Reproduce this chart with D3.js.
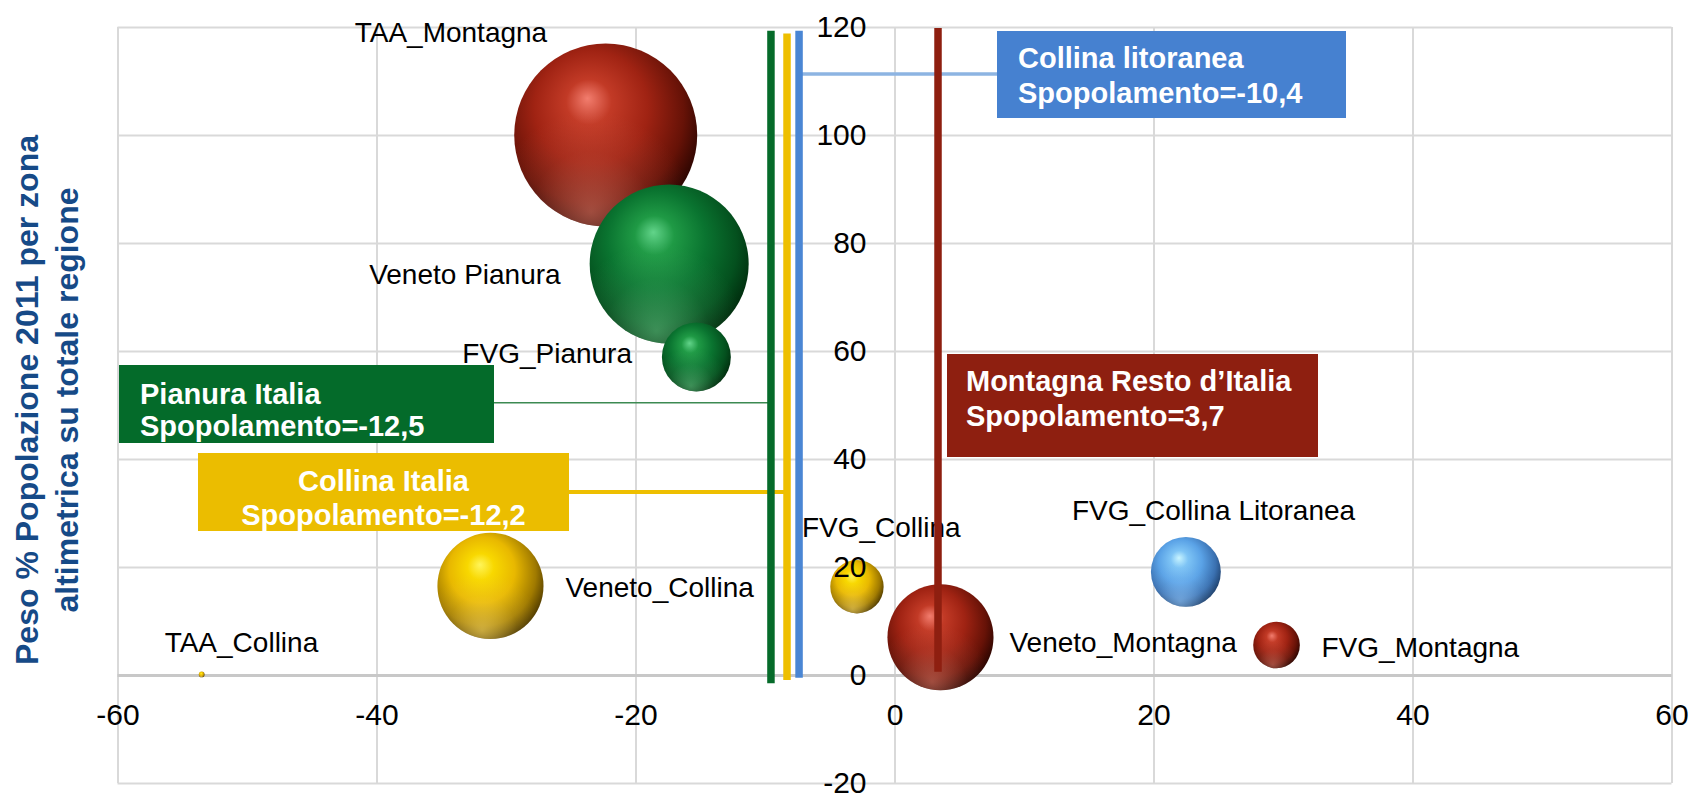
<!DOCTYPE html>
<html>
<head>
<meta charset="utf-8">
<script src="https://cdn.jsdelivr.net/npm/d3@7"></script>
<style>
  body { margin: 0; background: #fff; }
  text { font-family: "Liberation Sans", Arial, sans-serif; }
</style>
</head>
<body>
<script>
// bubbles: x = spopolamento, y = peso % popolazione, size = bubble value
const labels = ["TAA_Montagna", "Veneto Pianura", "FVG_Pianura", "Veneto_Collina", "TAA_Collina",
                "FVG_Collina", "FVG_Collina Litoranea", "Veneto_Montagna", "FVG_Montagna"];
const zones = ["Montagna", "Pianura", "Pianura", "Collina", "Collina",
               "Collina", "Litoranea", "Montagna", "Montagna"];
const spopolamento = [-22.3, -17.4, -15.3, -31.2, -53.5, -2.9, 22.5, 3.55, 29.5];
const peso = [100, 76.1, 58.9, 16.5, 0.1, 16.35, 19.1, 7.0, 5.55];
const dimensione = [100, 75.5, 14.2, 33.6, 0.1, 8.5, 14.6, 33.6, 6.5];

// reference lines for Italia
const italiaZones = ["Pianura", "Collina", "Litoranea", "Montagna"];
const italiaX = [-9.54, -8.30, -7.37, 3.36];
const italiaTop = [119.3, 118.8, 119.3, 119.8];
const italiaBottom = [-1.54, -0.93, -0.5, 0.6];
const italiaTitle = ["Pianura Italia", "Collina Italia", "Collina litoranea", "Montagna Resto d\u2019Italia"];
const italiaSpop = ["-12,5", "-12,2", "-10,4", "3,7"];
const connectorY = [50.4, 33.9, 111.3, null];

const xTicks = [-60, -40, -20, 0, 20, 40, 60];
const yTicks = [-20, 0, 20, 40, 60, 80, 100, 120];

const yTitle = ["Peso % Popolazione 2011 per zona", "altimetrica su totale regione"];

// styles / layout
const W = 1690, H = 794;
const palette = {
  Montagna:  {stops: ["#F27D6E", "#C23A26", "#A02313", "#661207", "#260400"], rim: "#E0806E", line: "#8E1F10", box: "#8E1F10"},
  Pianura:   {stops: ["#62D48A", "#1F9A45", "#0A7430", "#04501E", "#002A0C"], rim: "#6CCB8A", line: "#066B2A", box: "#046B2A"},
  Collina:   {stops: ["#FFF55A", "#F8D800", "#E8B800", "#A07A00", "#4A3600"], rim: "#FFE070", line: "#EEBF00", box: "#EBBD00"},
  Litoranea: {stops: ["#C8F4FF", "#7EC4F5", "#5AA2E6", "#3A70B0", "#1C3C66"], rim: "#9ED0FF", line: "#4A86D4", box: "#4681D0"}
};
const boxLayout = {
  Pianura:   {x: 119, y: 365, w: 375, h: 78,  anchor: "start",  tx: 140, ty: [404, 436]},
  Collina:   {x: 198, y: 453, w: 371, h: 78,  anchor: "middle", tx: 383.5, ty: [491, 525]},
  Litoranea: {x: 997, y: 31,  w: 349, h: 87,  anchor: "start",  tx: 1018, ty: [68, 103]},
  Montagna:  {x: 947, y: 354, w: 371, h: 103, anchor: "start",  tx: 966, ty: [391, 426]}
};
const connStyle = {
  Pianura:   {color: "#3C8A52", width: 1.5, from: 494},
  Collina:   {color: "#EEBF00", width: 4, from: 569},
  Litoranea: {color: "#8DB4E2", width: 3.5, from: 997}
};
const labelOffset = {
  "TAA_Montagna": [-251, -93], "Veneto Pianura": [-300, 20], "FVG_Pianura": [-234, 6],
  "Veneto_Collina": [75, 11], "TAA_Collina": [-37, -22], "FVG_Collina": [-55, -50],
  "FVG_Collina Litoranea": [-114, -52], "Veneto_Montagna": [69, 15], "FVG_Montagna": [45, 12]
};

const x = d3.scaleLinear().domain([-60, 60]).range([117.5, 1671.5]);
const y = d3.scaleLinear().domain([-20, 120]).range([783, 27]);
const r = d3.scaleSqrt().domain([0, 100]).range([0, 91.5]);
const fmt = d => String(d);   // plain hyphen minus, as in the original

const svg = d3.select("body").append("svg").attr("width", W).attr("height", H);
svg.append("rect").attr("width", W).attr("height", H).attr("fill", "#fff");

// gradients
const defs = svg.append("defs");
Object.keys(palette).forEach(k => {
  const g = defs.append("radialGradient").attr("id", "ball-" + k)
    .attr("cx", "0.44").attr("cy", "0.40").attr("r", "0.62")
    .attr("fx", "0.40").attr("fy", "0.30");
  [0, 0.2, 0.5, 0.8, 1].forEach((o, i) => {
    g.append("stop").attr("offset", o).attr("stop-color", palette[k].stops[i]);
  });
  const rim = defs.append("radialGradient").attr("id", "rim-" + k)
    .attr("cx", "0.42").attr("cy", "0.92").attr("r", "0.55");
  rim.append("stop").attr("offset", 0).attr("stop-color", palette[k].rim).attr("stop-opacity", 0.55);
  rim.append("stop").attr("offset", 0.6).attr("stop-color", palette[k].rim).attr("stop-opacity", 0.12);
  rim.append("stop").attr("offset", 1).attr("stop-color", palette[k].rim).attr("stop-opacity", 0);
});

// gridlines
const plotH = y(-20) - y(120), plotW = x(60) - x(-60);
svg.append("g").attr("transform", "translate(0," + y(-20) + ")")
  .call(d3.axisBottom(x).tickValues(xTicks).tickSize(-plotH).tickFormat(""))
  .call(g => g.select(".domain").remove())
  .call(g => g.selectAll("line").attr("stroke", "#D9D9D9").attr("stroke-width", 2));
svg.append("g").attr("transform", "translate(" + x(-60) + ",0)")
  .call(d3.axisLeft(y).tickValues(yTicks).tickSize(-plotW).tickFormat(""))
  .call(g => g.select(".domain").remove())
  .call(g => g.selectAll("line").attr("stroke", d => d === 0 ? "#C8C8C8" : "#D9D9D9")
                                 .attr("stroke-width", d => d === 0 ? 3 : 2));

// bubbles
const bubbles = labels.map((l, i) => ({name: l, zone: zones[i], x: spopolamento[i], y: peso[i], s: dimensione[i]}));
const bg = svg.append("g").selectAll("g").data(bubbles).join("g")
  .attr("transform", d => "translate(" + x(d.x) + "," + y(d.y) + ")");
bg.append("circle").attr("r", d => r(d.s)).attr("fill", d => "url(#ball-" + d.zone + ")");
bg.append("circle").attr("r", d => r(d.s)).attr("fill", d => "url(#rim-" + d.zone + ")");

// tick labels
svg.append("g").attr("transform", "translate(0," + y(0) + ")")
  .call(d3.axisBottom(x).tickValues(xTicks).tickSize(0).tickPadding(29).tickFormat(fmt))
  .call(g => g.select(".domain").remove())
  .call(g => g.selectAll("text").attr("font-size", 30).attr("fill", "#000")
    .attr("font-family", "Liberation Sans, Arial, sans-serif"));
svg.append("g").attr("transform", "translate(" + x(0) + ",0)")
  .call(d3.axisLeft(y).tickValues(yTicks).tickSize(0).tickPadding(28).tickFormat(fmt))
  .call(g => g.select(".domain").remove())
  .call(g => g.selectAll("text").attr("font-size", 30).attr("fill", "#000")
    .attr("font-family", "Liberation Sans, Arial, sans-serif"));

// data labels
svg.append("g").selectAll("text").data(bubbles).join("text")
  .attr("x", d => x(d.x) + labelOffset[d.name][0])
  .attr("y", d => y(d.y) + labelOffset[d.name][1])
  .attr("font-size", 28).attr("fill", "#000")
  .text(d => d.name);

// Italia reference lines and annotations
const italia = italiaZones.map((z, i) => ({zone: z, x: italiaX[i], top: italiaTop[i], bottom: italiaBottom[i],
  title: italiaTitle[i], spop: italiaSpop[i], cy: connectorY[i]}));

svg.append("g").selectAll("line").data(italia.filter(d => d.cy !== null)).join("line")
  .attr("x1", d => connStyle[d.zone].from).attr("x2", d => x(d.x))
  .attr("y1", d => y(d.cy)).attr("y2", d => y(d.cy))
  .attr("stroke", d => connStyle[d.zone].color).attr("stroke-width", d => connStyle[d.zone].width);

svg.append("g").selectAll("line").data(italia).join("line")
  .attr("x1", d => x(d.x)).attr("x2", d => x(d.x))
  .attr("y1", d => y(d.top)).attr("y2", d => y(d.bottom))
  .attr("stroke", d => palette[d.zone].line).attr("stroke-width", 7.5);

const boxes = svg.append("g").selectAll("g").data(italia).join("g");
boxes.append("rect")
  .attr("x", d => boxLayout[d.zone].x).attr("y", d => boxLayout[d.zone].y)
  .attr("width", d => boxLayout[d.zone].w).attr("height", d => boxLayout[d.zone].h)
  .attr("fill", d => palette[d.zone].box);
boxes.each(function(d) {
  const b = boxLayout[d.zone];
  [d.title, "Spopolamento=" + d.spop].forEach((t, i) => {
    d3.select(this).append("text")
      .attr("x", b.tx).attr("y", b.ty[i])
      .attr("text-anchor", b.anchor)
      .attr("font-size", 29).attr("font-weight", "bold").attr("fill", "#fff")
      .text(t);
  });
});

// y axis title
const yt = svg.append("text")
  .attr("transform", "translate(38,400) rotate(-90)")
  .attr("text-anchor", "middle")
  .attr("font-size", 32).attr("font-weight", "bold").attr("fill", "#164A87");
yTitle.forEach((t, i) => {
  yt.append("tspan").attr("x", 0).attr("y", i * 40).text(t);
});
</script>
</body>
</html>
